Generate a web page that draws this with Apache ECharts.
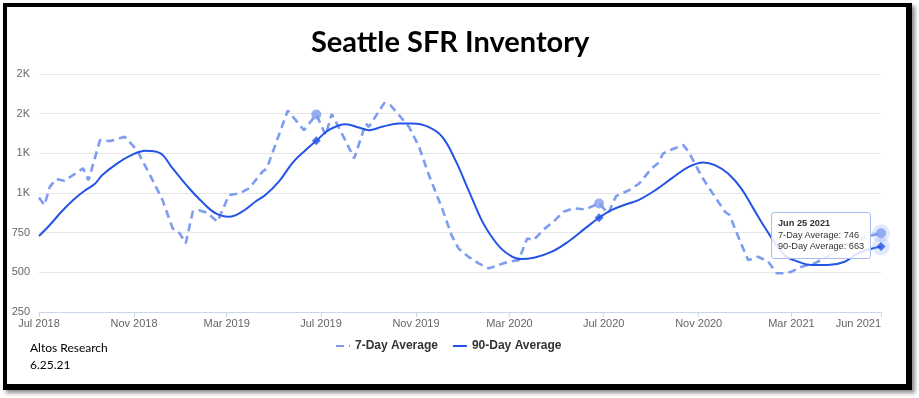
<!DOCTYPE html>
<html>
<head>
<meta charset="utf-8">
<title>Seattle SFR Inventory</title>
<script src="https://cdn.jsdelivr.net/npm/echarts@6/dist/echarts.min.js"></script>
<style>
  html, body { margin: 0; padding: 0; background: #fff; }
  #chart { width: 919px; height: 398px; }
  #frame {
    position: absolute; left: 3px; top: 3px; width: 909px; height: 387px;
    box-sizing: border-box; border: solid #000; border-width: 4px 6px 6px 4px;
    box-shadow: 3px 3px 4px rgba(0,0,0,0.45); pointer-events: none;
  }
</style>
</head>
<body>
<div id="chart"></div>
<div id="frame"></div>
<script>
// 7-day average (dashed)
const weekDates = [
  '2018-07-01','2018-07-08','2018-07-15','2018-07-23','2018-08-03','2018-08-27','2018-09-03','2018-09-18',
  '2018-10-01','2018-10-20','2018-11-05','2018-11-25','2018-12-08','2018-12-21','2018-12-30','2019-01-07',
  '2019-01-16','2019-01-24','2019-02-04','2019-02-17','2019-03-04','2019-03-17','2019-03-30','2019-04-16',
  '2019-04-22','2019-05-19','2019-06-09','2019-06-25','2019-07-07','2019-07-15','2019-07-26','2019-08-13',
  '2019-08-28','2019-09-01','2019-09-21','2019-09-29','2019-10-23','2019-11-05','2019-11-17','2019-12-05',
  '2019-12-17','2019-12-26','2020-01-08','2020-01-21','2020-02-03','2020-02-16','2020-02-29','2020-03-13',
  '2020-03-24','2020-04-01','2020-04-16','2020-04-27','2020-05-10','2020-05-23','2020-06-07','2020-06-25',
  '2020-07-07','2020-07-17','2020-08-03','2020-08-16','2020-09-01','2020-09-09','2020-09-16','2020-09-27',
  '2020-10-12','2020-10-19','2020-11-05','2020-11-22','2020-12-05','2020-12-11','2020-12-24','2021-01-04',
  '2021-01-17','2021-01-30','2021-02-10','2021-02-20','2021-03-01','2021-03-14','2021-03-31','2021-04-17',
  '2021-05-07','2021-05-26','2021-06-08','2021-06-25'
];
const weekValues = [
  972, 924, 1039, 1087, 1077, 1155, 1081, 1333,
  1327, 1354, 1270, 1081, 955, 777, 746, 683,
  882, 892, 875, 819, 987, 997, 1029, 1133,
  1155, 1520, 1396, 1495, 1365, 1497, 1396, 1218,
  1438, 1417, 1568, 1553, 1417, 1291, 1123, 900,
  735, 651, 598, 557, 525, 546, 567, 577,
  714, 703, 777, 819, 882, 903, 897, 934,
  872, 980, 1018, 1060, 1155, 1186, 1249, 1274,
  1302, 1260, 1102, 976, 882, 861, 703, 577,
  598, 567, 494, 494, 504, 535, 557, 600,
  660, 700, 728, 746
];

// 90-day average (solid)
const quarterDates = [
  '2018-07-01','2018-07-15','2018-07-30','2018-08-14','2018-08-29','2018-09-11','2018-09-21','2018-10-09',
  '2018-10-26','2018-11-16','2018-12-04','2018-12-21','2019-01-09','2019-01-28','2019-02-15','2019-03-04',
  '2019-03-21','2019-04-07','2019-04-20','2019-05-08','2019-05-26','2019-06-11','2019-06-25','2019-07-11',
  '2019-08-02','2019-08-19','2019-09-01','2019-09-18','2019-10-10','2019-10-27','2019-11-17','2019-12-05',
  '2019-12-22','2020-01-08','2020-01-25','2020-02-07','2020-02-19','2020-03-03','2020-03-15','2020-04-03',
  '2020-04-25','2020-05-16','2020-06-07','2020-06-25','2020-07-11','2020-08-02','2020-08-15','2020-09-06',
  '2020-09-27','2020-10-19','2020-11-07','2020-11-22','2020-12-09','2020-12-26','2021-01-12','2021-01-25',
  '2021-02-20','2021-03-10','2021-03-27','2021-04-17','2021-05-09','2021-05-26','2021-06-25'
];
const quarterValues = [
  729, 798, 882, 955, 1014, 1056, 1113, 1182,
  1232, 1266, 1253, 1155, 1043, 945, 871, 850,
  882, 945, 987, 1075, 1195, 1270, 1329, 1396,
  1434, 1413, 1396, 1417, 1438, 1438, 1417, 1354,
  1207, 1018, 829, 724, 651, 603, 584, 594,
  630, 693, 777, 844, 892, 934, 955, 1018,
  1092, 1165, 1193, 1176, 1123, 1029, 892, 787,
  609, 567, 546, 546, 567, 620, 663
];

// same-day markers in each year
const markerDates = ['2019-06-25', '2020-06-25', '2021-06-25'];

const tickDates = ['2018-07-01','2018-11-01','2019-03-01','2019-07-01','2019-11-01',
  '2020-03-01','2020-07-01','2020-11-01','2021-03-01','2021-06-25'];
const yMin = 250, yMax = 1750, yStep = 250;

const months = ['Jan','Feb','Mar','Apr','May','Jun','Jul','Aug','Sep','Oct','Nov','Dec'];
const lightBlue = '#7e9cf0';
const darkBlue = '#2454e6';
const font = '"Liberation Sans", Arial, sans-serif';

function t(s) { return new Date(s + 'T00:00:00').getTime(); }
function zip(dates, vals) { return dates.map((d, i) => [t(d), vals[i]]); }
function pick(dates, vals, d) { return [t(d), vals[dates.indexOf(d)]]; }

const weekMarks = markerDates.map(d => pick(weekDates, weekValues, d));
const quarterMarks = markerDates.map(d => pick(quarterDates, quarterValues, d));
const lastWeek = weekMarks[weekMarks.length - 1];
const lastQuarter = quarterMarks[quarterMarks.length - 1];
const ticks = tickDates.map(t);

const chart = echarts.init(document.getElementById('chart'));
chart.setOption({
  animation: false,
  backgroundColor: '#fff',
  title: [{
    text: 'Seattle SFR Inventory',
    left: 311, top: 28, padding: 0,
    textStyle: { fontFamily: 'Lato, sans-serif', fontWeight: 'bold', fontSize: 29, color: '#000' }
  }, {
    text: 'Altos Research\n6.25.21',
    left: 30, top: 340, padding: 0,
    textStyle: { fontFamily: 'Lato, sans-serif', fontWeight: 'normal', fontSize: 12, color: '#000', lineHeight: 17 }
  }],
  legend: {
    data: ['7-Day Average', '90-Day Average'],
    left: 330, top: 335,
    itemWidth: 14, itemHeight: 8, itemGap: 14,
    itemStyle: { opacity: 0 },
    textStyle: { fontFamily: font, fontWeight: 'bold', fontSize: 12, color: '#333' }
  },
  tooltip: {
    trigger: 'item',
    triggerOn: 'none',
    alwaysShowContent: true,
    transitionDuration: 0,
    backgroundColor: 'rgba(255,255,255,0.85)',
    borderColor: '#a9bdf3',
    borderWidth: 1,
    padding: [5, 6],
    extraCssText: 'box-shadow:none;border-radius:3px;',
    textStyle: { fontFamily: font, fontSize: 9.2, color: '#333', lineHeight: 11.5 },
    position: function (point) { return [point[0] - 110, point[1] - 21]; },
    formatter: function () {
      const d = new Date(lastWeek[0]);
      return '<div style="line-height:11.5px">' +
        '<b>' + months[d.getMonth()] + ' ' + d.getDate() + ' ' + d.getFullYear() + '</b><br/>' +
        '7-Day Average: ' + lastWeek[1] + '<br/>' +
        '90-Day Average: ' + lastQuarter[1] + '</div>';
    }
  },
  grid: { left: 39, right: 38, top: 74, bottom: 86 },
  xAxis: {
    type: 'value',
    min: ticks[0], max: ticks[ticks.length - 1],
    axisLine: { lineStyle: { color: '#ccd6eb' } },
    axisTick: { show: true, length: 5, lineStyle: { color: '#ccd6eb' }, customValues: ticks },
    axisLabel: {
      customValues: ticks,
      alignMaxLabel: 'right',
      color: '#666', fontSize: 11, fontFamily: font, margin: 6,
      formatter: function (v) { const d = new Date(v); return months[d.getMonth()] + ' ' + d.getFullYear(); }
    },
    splitLine: { show: false }
  },
  yAxis: {
    type: 'value', min: yMin, max: yMax, interval: yStep,
    axisLine: { show: false }, axisTick: { show: false },
    axisLabel: {
      color: '#666', fontSize: 11, fontFamily: font, margin: 9,
      formatter: function (v) { return v >= 1000 ? Math.round(v / 1000) + 'K' : String(v); }
    },
    splitLine: { lineStyle: { color: '#e6e6e6' } }
  },
  series: [{
    name: '7-Day Average',
    type: 'line',
    data: zip(weekDates, weekValues),
    symbol: 'none',
    itemStyle: { color: lightBlue },
    lineStyle: { color: lightBlue, width: 2.6, type: [8, 5] },
    z: 2
  }, {
    name: '90-Day Average',
    type: 'line',
    data: zip(quarterDates, quarterValues),
    symbol: 'none',
    smooth: 0.4,
    itemStyle: { color: darkBlue },
    lineStyle: { color: darkBlue, width: 2 },
    z: 3
  }, {
    name: 'week marks',
    type: 'scatter',
    data: weekMarks,
    symbol: 'circle', symbolSize: 10,
    itemStyle: { color: lightBlue },
    emphasis: { disabled: true },
    z: 5
  }, {
    name: 'quarter marks',
    type: 'scatter',
    data: quarterMarks,
    symbol: 'diamond', symbolSize: 9,
    itemStyle: { color: darkBlue },
    emphasis: { disabled: true },
    z: 5
  }, {
    name: 'halo',
    type: 'scatter',
    data: [lastWeek, lastQuarter],
    symbol: 'circle', symbolSize: 18,
    itemStyle: { color: 'rgba(126,156,240,0.28)' },
    emphasis: { disabled: true },
    z: 4
  }]
});
chart.dispatchAction({ type: 'showTip', seriesIndex: 4, dataIndex: 0 });
</script>
</body>
</html>
